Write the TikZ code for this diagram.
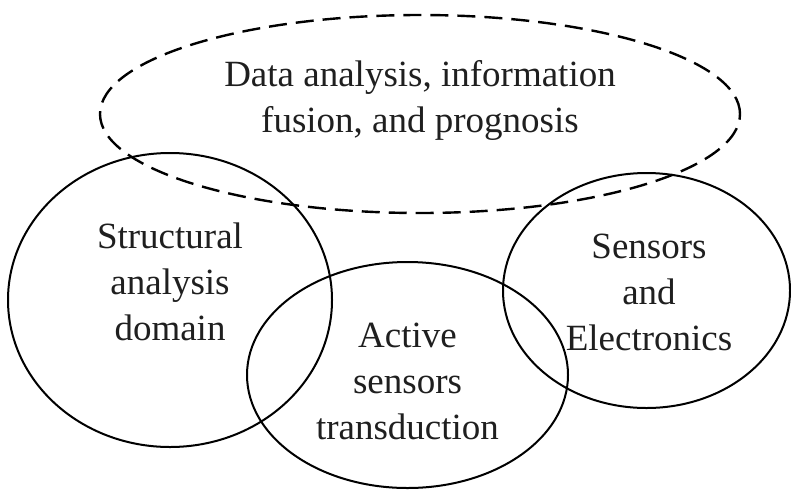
\documentclass[tikz,border=0pt]{standalone}
\usepackage{fontspec}
\setmainfont{Liberation Serif}
\usetikzlibrary{shapes.geometric}
\begin{document}
\begin{tikzpicture}[x=1pt,y=-1pt,
  region/.style={draw=black, line width=2pt, ellipse, inner sep=0pt},
  dashregion/.style={region, line width=2.4pt, dash pattern=on 18pt off 9pt},
  caption/.style={align=center, inner sep=0pt, text=black!88,
    font=\fontsize{37}{46}\selectfont}]
\useasboundingbox (0,0) rectangle (791,490);
% domains of the system
\node[dashregion, minimum width=640pt, minimum height=198pt] (fusion) at (420,114) {};
\node[region, minimum width=324pt, minimum height=294pt] (struct) at (170,300) {};
\node[region, minimum width=321pt, minimum height=226pt] (active) at (407.5,375) {};
\node[region, minimum width=287pt, minimum height=235pt] (elec) at (646.5,290.5) {};
% labels
\node[caption] (tfusion) at (420,100) {Data analysis, information\\fusion, and prognosis};
\node[caption] (tstruct) at (170,282) {Structural\\analysis\\domain};
\node[caption] (tactive) at (407.5,381) {Active\\sensors\\transduction};
\node[caption] (telec) at (649,292) {Sensors\\and\\Electronics};
\end{tikzpicture}
\end{document}
